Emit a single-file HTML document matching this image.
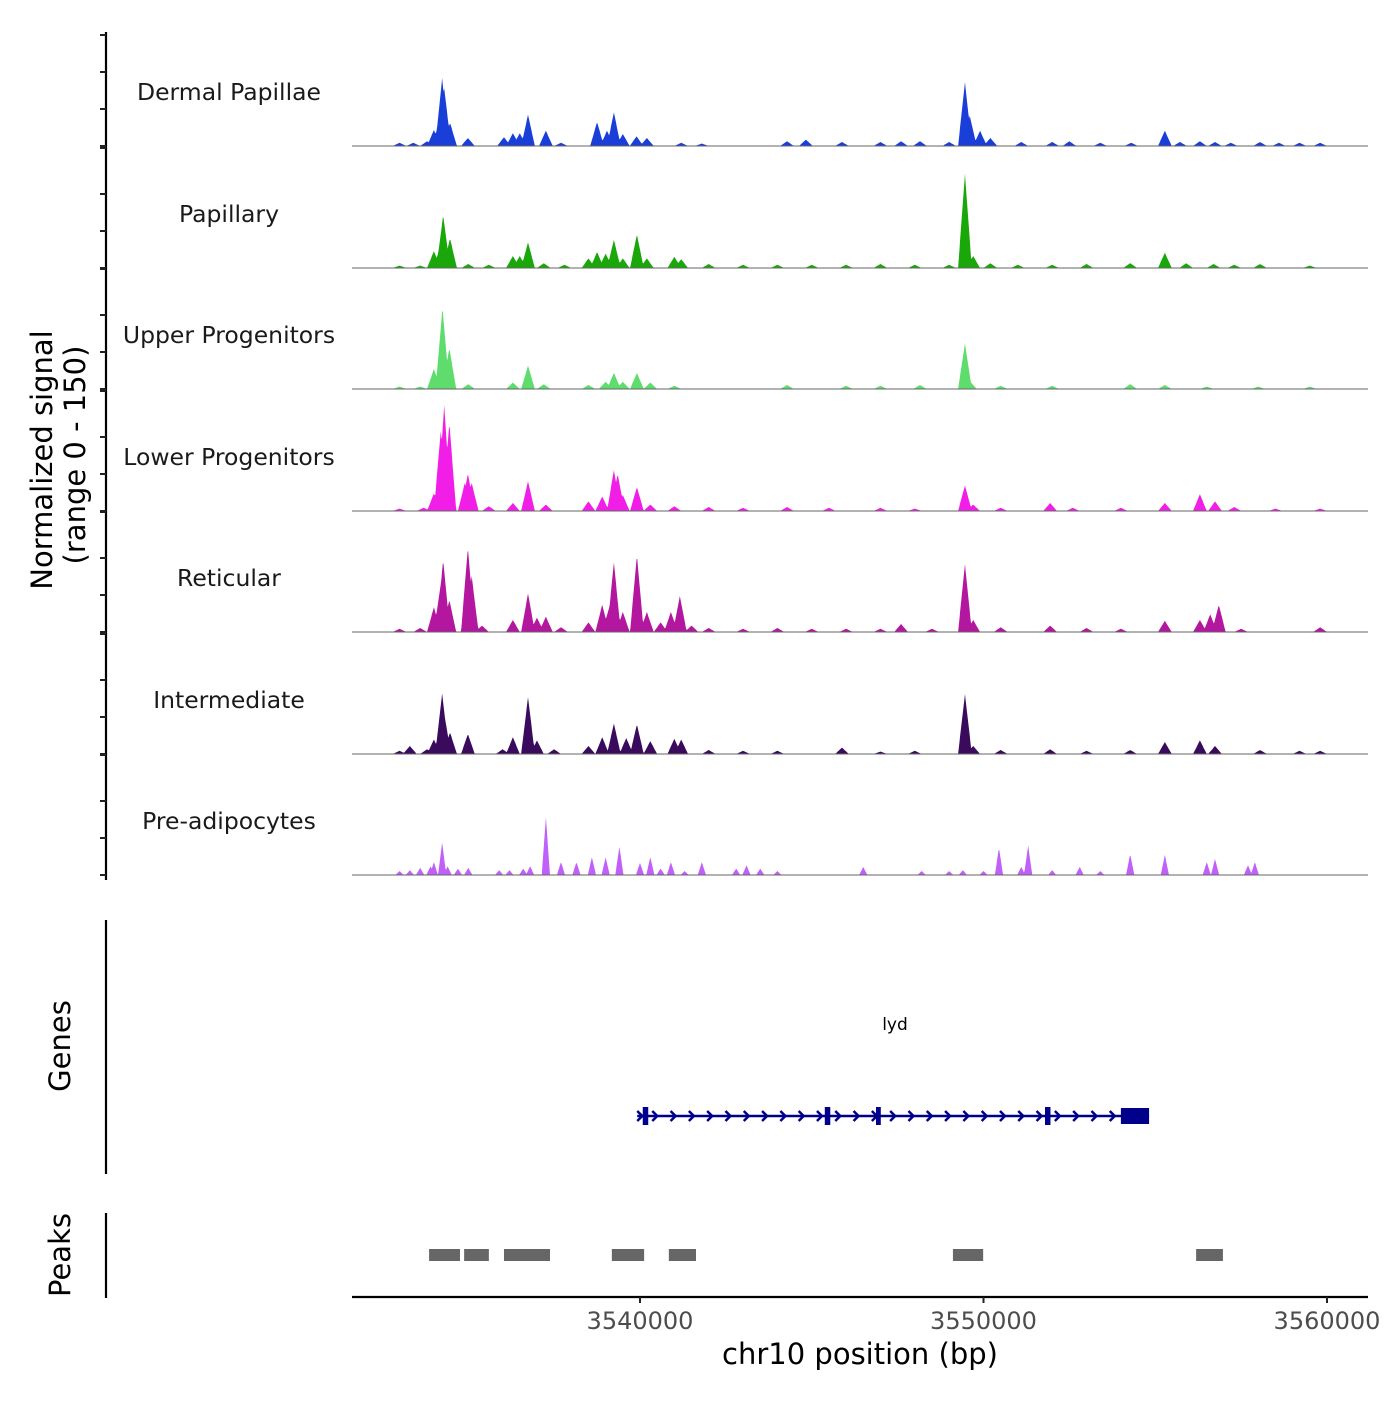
<!DOCTYPE html>
<html><head><meta charset="utf-8">
<style>
body{margin:0;background:#fff;}
svg text{font-family:"DejaVu Sans","Liberation Sans",sans-serif;}
</style></head>
<body>
<svg id="chart" width="1400" height="1400" viewBox="0 0 1400 1400" xmlns="http://www.w3.org/2000/svg">
<rect width="1400" height="1400" fill="#fff"/>
<g id="tracks"></g>
<g id="yaxis"></g>
<text transform="translate(52,460) rotate(-90)" text-anchor="middle" font-size="29" fill="#000">Normalized signal</text>
<text transform="translate(85,455) rotate(-90)" text-anchor="middle" font-size="29" fill="#000">(range 0 - 150)</text>
<line x1="106" y1="920" x2="106" y2="1174" stroke="#000" stroke-width="2.2"/>
<text transform="translate(70,1046) rotate(-90)" text-anchor="middle" font-size="29">Genes</text>
<line x1="106" y1="1213" x2="106" y2="1298" stroke="#000" stroke-width="2.2"/>
<text transform="translate(70,1255) rotate(-90)" text-anchor="middle" font-size="29">Peaks</text>
<g id="genes"></g>
<g id="peaks"></g>
<g id="xaxis"></g>
<text x="860" y="1364" text-anchor="middle" font-size="29">chr10 position (bp)</text>
</svg>
<script>
// ---- data (positions in kb, signal 0-150) ----
const trackNames = ["Dermal Papillae","Papillary","Upper Progenitors","Lower Progenitors","Reticular","Intermediate","Pre-adipocytes"];
const trackColors = ["#1a3fd8","#1aa70a","#5edc6c","#f01ee6","#b3169f","#3a0a5c","#c060f8"];
const dpPos = [3533.0,3533.4,3533.8,3534.0,3534.15,3534.24,3534.3,3534.47,3534.99,3536.04,3536.3,3536.5,3536.74,3537.26,3537.7,3538.75,3539.04,3539.24,3539.5,3539.9,3540.2,3541.2,3541.8,3544.28,3544.83,3545.88,3547.0,3547.6,3548.15,3549.0,3549.46,3549.6,3549.9,3550.2,3551.1,3552.0,3552.5,3553.4,3554.3,3555.28,3555.72,3556.3,3556.74,3557.2,3558.05,3558.6,3559.2,3559.8];
const dpVal = [4,4,6,20,30,85,72,29,10,11,16,16,39,19,4,30,19,42,15,12,10,4,3,6,8,5,5,6,6,5,80,38,19,10,5,5,6,4,4,19,5,6,5,4,5,4,4,4];
const paPos = [3533.0,3533.6,3534.0,3534.2,3534.27,3534.47,3535.0,3535.6,3536.3,3536.5,3536.74,3537.2,3537.8,3538.5,3538.75,3539.0,3539.24,3539.5,3539.91,3540.2,3541.0,3541.2,3542.0,3543.0,3544.0,3545.0,3546.0,3547.0,3548.0,3549.0,3549.46,3549.7,3550.2,3551.0,3552.0,3553.0,3554.27,3555.28,3555.9,3556.7,3557.3,3558.05,3559.5];
const paVal = [3,3,21,30,66,37,5,4,15,15,32,6,4,12,20,18,35,12,42,12,14,11,5,4,4,4,4,5,4,4,118,15,6,4,4,5,6,19,6,5,4,5,3];
const upPos = [3533.0,3533.6,3534.0,3534.2,3534.25,3534.45,3535.0,3536.3,3536.74,3537.2,3538.5,3539.0,3539.24,3539.5,3539.91,3540.3,3541.0,3544.28,3546.0,3547.0,3548.15,3549.46,3549.6,3550.5,3552.0,3554.27,3555.28,3556.5,3558.0,3559.5];
const upVal = [3,3,25,40,102,51,6,8,29,6,5,9,20,9,20,8,4,5,4,4,5,57,10,4,4,6,5,3,3,3];
const lpPos = [3533.0,3533.7,3534.0,3534.2,3534.3,3534.45,3534.9,3534.99,3535.1,3535.6,3536.3,3536.74,3537.26,3538.5,3538.9,3539.24,3539.35,3539.5,3539.91,3540.3,3541.0,3542.0,3543.0,3544.28,3545.5,3547.0,3548.0,3549.46,3549.7,3550.5,3551.94,3552.6,3554.0,3555.28,3556.3,3556.74,3557.3,3558.5,3559.8];
const lpVal = [3,4,22,100,132,110,35,47,35,6,10,37,8,12,18,51,46,20,30,8,6,5,4,5,4,4,3,32,8,4,10,4,4,10,21,12,5,3,3];
const rePos = [3533.0,3533.6,3534.0,3534.2,3534.27,3534.45,3534.99,3535.1,3535.4,3536.3,3536.74,3537.0,3537.26,3537.7,3538.5,3538.9,3539.1,3539.24,3539.5,3539.91,3540.2,3540.6,3540.9,3541.16,3541.5,3542.0,3543.0,3544.0,3545.0,3546.0,3547.0,3547.6,3548.5,3549.46,3549.7,3550.5,3551.94,3553.0,3554.0,3555.28,3556.3,3556.6,3556.85,3557.5,3559.8];
const reVal = [4,5,31,60,90,40,106,70,8,15,48,18,19,6,12,34,30,87,25,96,25,12,25,45,8,5,4,5,4,4,4,10,4,85,15,6,8,5,4,14,15,22,34,4,6];
const inPos = [3533.0,3533.3,3533.8,3534.0,3534.24,3534.3,3534.47,3534.99,3536.0,3536.3,3536.74,3537.0,3537.5,3538.5,3538.9,3539.24,3539.6,3539.91,3540.3,3541.0,3541.2,3542.0,3543.0,3544.0,3545.88,3547.0,3548.0,3549.46,3549.7,3550.5,3551.94,3553.0,3554.27,3555.28,3556.3,3556.74,3558.05,3559.2,3559.8];
const inVal = [4,10,6,18,76,50,27,25,6,21,71,17,6,10,21,38,20,37,16,19,18,5,4,4,8,3,4,75,10,5,6,4,5,15,17,10,5,4,4];
const adPos = [3533.0,3533.3,3533.6,3533.9,3534.0,3534.24,3534.4,3534.7,3535.0,3535.9,3536.2,3536.6,3536.8,3537.26,3537.7,3538.15,3538.6,3539.0,3539.4,3540.0,3540.3,3540.6,3540.9,3541.3,3541.8,3542.8,3543.1,3543.5,3544.0,3546.5,3548.2,3549.0,3549.4,3550.0,3550.45,3551.1,3551.3,3552.0,3552.8,3553.4,3554.27,3555.28,3556.5,3556.74,3557.7,3557.9];
const adVal = [5,6,9,11,16,41,11,8,9,6,6,8,11,72,16,16,22,22,35,15,22,8,16,5,16,8,12,8,5,10,5,5,6,5,34,10,37,6,10,5,26,25,16,20,12,16];
const trackPos = [dpPos,paPos,upPos,lpPos,rePos,inPos,adPos];
const trackVal = [dpVal,paVal,upVal,lpVal,reVal,inVal,adVal];
const xTicks = [3540000,3550000,3560000];
const peakStarts = [3533.86,3534.88,3536.04,3539.18,3540.84,3549.11,3556.19];
const peakEnds = [3534.76,3535.6,3537.38,3540.12,3541.63,3549.99,3556.97];
const exonStarts = [3540.08,3545.38,3546.87,3551.79,3554.0];
const exonEnds = [3540.24,3545.54,3547.01,3551.95,3554.82];
const geneStart = 3539.92, geneEnd = 3554.82;

// ---- scales ----
const X0=352, X1=1368;
const xs = kb => 640 + (kb-3540)*34.35;
const baselines = [146,268,389,511,632,754,875];
const ys = v => v*0.8;
const NS="http://www.w3.org/2000/svg";
function mk(tag, attrs, parent){const e=document.createElementNS(NS,tag);for(const k in attrs)e.setAttribute(k,attrs[k]);parent.appendChild(e);return e;}

const tracks=document.getElementById('tracks');
trackNames.forEach((name,i)=>{
  const b=baselines[i];
  const g=mk('g',{},tracks);
  
  
  const pos=trackPos[i], val=trackVal[i];
  const hw = i===6 ? 0.12 : 0.2;
  const lo=Math.min(...pos)-hw, hi=Math.max(...pos)+hw;
  let d='M'+xs(lo).toFixed(1)+','+b;
  for(let k=lo;k<=hi;k+=0.02){
    let m=0;
    for(let j=0;j<pos.length;j++){const dd=Math.abs(k-pos[j]);if(dd<hw){m=Math.max(m,val[j]*(1-dd/hw));}}
    d+=' L'+xs(k).toFixed(1)+','+(b-ys(m)).toFixed(1);
  }
  d+=' L'+xs(hi).toFixed(1)+','+b+' Z';
  const p=mk('path',{d:d,fill:trackColors[i]},g);
  
  
  const bl=mk('line',{x1:X0,x2:X1,y1:b,y2:b,stroke:'#666','stroke-width':1},g);
  
  
  const t=mk('text',{x:229,y:b-46,'text-anchor':'middle','font-size':23.5,fill:'#1a1a1a'},g);
  t.textContent=name;
  
  
});

// y axis
const ya=document.getElementById('yaxis');
mk('line',{x1:106,y1:32,x2:106,y2:880,stroke:'#000','stroke-width':2.2},ya);
baselines.forEach((b,i)=>{
  const offs = i===0?[0,37,74,111]:[0,37,74,120];
  offs.forEach(o=>{const t=mk('line',{x1:100,x2:106,y1:b-o,y2:b-o,stroke:'#222','stroke-width':2},ya);
    
    });
});

// genes
const gg=document.getElementById('genes');
const gy=1116, gc='#00008b';
mk('line',{x1:xs(geneStart),x2:xs(geneEnd),y1:gy,y2:gy,stroke:gc,'stroke-width':2.5},gg);
for(let x=xs(geneStart);x<xs(geneEnd)-25;x+=18.3){
  const a=mk('path',{d:`M${x+15},${gy-5} L${x+20},${gy} L${x+15},${gy+5}`,stroke:gc,'stroke-width':2.5,fill:'none'},gg);
  
  
}
mk('path',{d:`M${xs(geneStart)},${gy-5} L${xs(geneStart)+5},${gy} L${xs(geneStart)},${gy+5}`,stroke:gc,'stroke-width':2.5,fill:'none'},gg);
exonStarts.forEach((s,i)=>{
  const big=i===exonStarts.length-1;
  const r=mk('rect',{x:xs(s),y:big?gy-8:gy-9,width:xs(exonEnds[i])-xs(s),height:big?16:18,fill:gc},gg);
  
  
});
const gl=mk('text',{x:895,y:1030,'text-anchor':'middle','font-size':17,fill:'#000'},gg);
gl.textContent='lyd';



// peaks
const pg=document.getElementById('peaks');
peakStarts.forEach((s,i)=>{
  const r=mk('rect',{x:xs(s),y:1249,width:xs(peakEnds[i])-xs(s),height:12,fill:'#666'},pg);
  
  
});

// x axis
const xa=document.getElementById('xaxis');
mk('line',{x1:X0,x2:X1,y1:1297,y2:1297,stroke:'#000','stroke-width':2.2},xa);
xTicks.forEach(v=>{
  const x=xs(v/1000);
  const t=mk('line',{x1:x,x2:x,y1:1297,y2:1303,stroke:'#222','stroke-width':2},xa);
  
  
  const l=mk('text',{x:x,y:1329,'text-anchor':'middle','font-size':24,fill:'#4d4d4d'},xa);
  l.textContent=String(v);
  
  
});
</script>
</body></html>
